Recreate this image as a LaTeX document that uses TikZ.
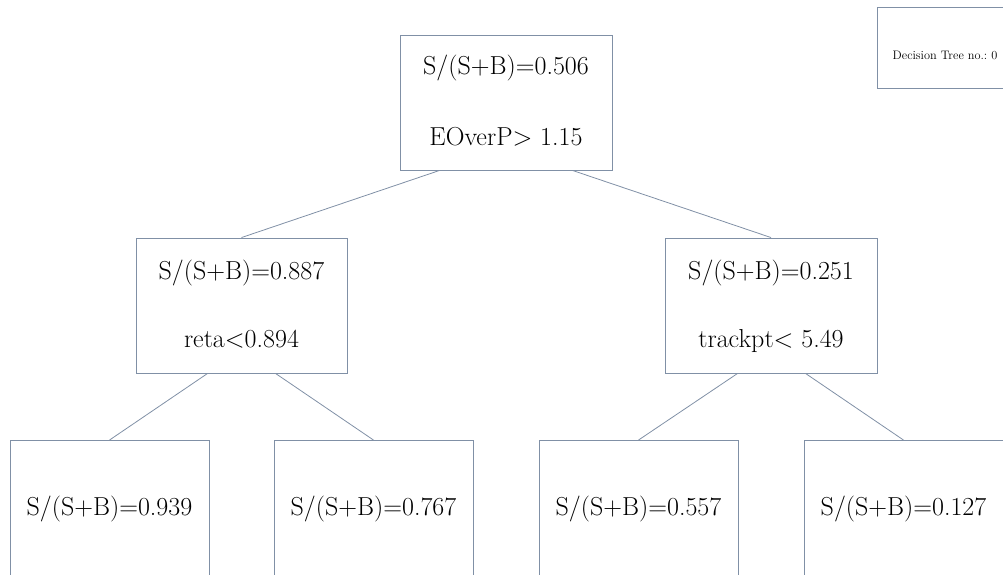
\documentclass[tikz,border=0pt]{standalone}
\usetikzlibrary{calc}
\definecolor{linec}{RGB}{128,144,166}
\begin{document}
\begin{tikzpicture}[x=1pt,y=-1pt,
  box/.style={draw=linec,line width=0.9pt,rectangle,inner sep=0pt,minimum width=#1,minimum height=135pt},
  leafbox/.style={draw=linec,line width=0.9pt,rectangle,inner sep=0pt,minimum width=199pt,minimum height=137pt},
  txt/.style={inner sep=0pt,anchor=base,font=\fontsize{26}{30}\selectfont},
  edge/.style={draw=linec,line width=0.8pt}]
\useasboundingbox (0,0) rectangle (1003,575);
% legend
\node[draw=linec,line width=0.9pt,rectangle,inner sep=0pt,minimum width=136pt,minimum height=81pt] (leg) at (945,47.5) {};
\node[inner sep=0pt,anchor=base,font=\fontsize{12.3}{14}\selectfont] (legt) at (945,60) {Decision Tree no.:\ 0};
% nodes
\node[box=212pt] (n0) at (506,102.5) {};
\node[box=211pt] (n1) at (241.5,305.5) {};
\node[box=212pt] (n2) at (771,305.5) {};
\node[leafbox] (l1) at (109.5,509) {};
\node[leafbox] (l2) at (373.5,509) {};
\node[leafbox] (l3) at (638.5,509) {};
\node[leafbox] (l4) at (903.5,509) {};
% texts
\node[txt] (t0a) at (506,75) {S/(S+B)=0.506};
\node[txt] (t0b) at (506,146) {EOverP\textgreater{} 1.15};
\node[txt] (t1a) at (241.5,279) {S/(S+B)=0.887};
\node[txt] (t1b) at (241.5,347) {reta\textless 0.894};
\node[txt] (t2a) at (771,279) {S/(S+B)=0.251};
\node[txt] (t2b) at (771,347) {trackpt\textless{} 5.49};
\node[txt] (t3) at (109.5,515) {S/(S+B)=0.939};
\node[txt] (t4) at (373.5,515) {S/(S+B)=0.767};
\node[txt] (t5) at (638.5,515) {S/(S+B)=0.557};
\node[txt] (t6) at (903.5,515) {S/(S+B)=0.127};
% edges
\draw[edge] ($(n0.south west)+(40,0)$) -- (n1.north);
\draw[edge] ($(n0.south west)+(173,0)$) -- (n2.north);
\draw[edge] ($(n1.south west)+(72,0)$) -- (l1.north);
\draw[edge] ($(n1.south west)+(140,0)$) -- (l2.north);
\draw[edge] ($(n2.south west)+(73,0)$) -- (l3.north);
\draw[edge] ($(n2.south west)+(141,0)$) -- (l4.north);
\end{tikzpicture}
\end{document}
